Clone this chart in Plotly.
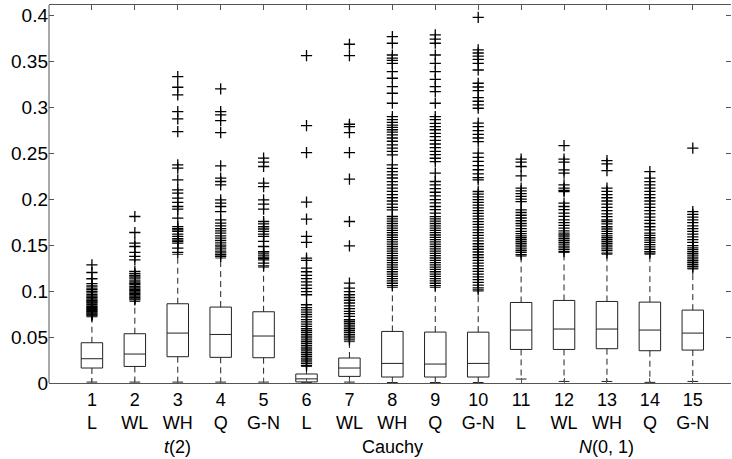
import plotly.graph_objects as go

# ---------------- data ----------------
positions = list(range(1, 16))
method_labels = ["L", "WL", "WH", "Q", "G-N"] * 3
group_labels = ["<i>t</i>(2)", "Cauchy", "<i>N</i>(0, 1)"]
group_centers = [3, 8, 13]

q1 = [0.0163, 0.0180, 0.0286, 0.0279, 0.0275,
      0.0012, 0.0072, 0.0065, 0.0065, 0.0065,
      0.0365, 0.0365, 0.0373, 0.0351, 0.0358]
median = [0.0264, 0.0315, 0.0543, 0.0528, 0.0511,
          0.0045, 0.0163, 0.0213, 0.0206, 0.0213,
          0.0576, 0.0587, 0.0587, 0.0576, 0.0543]
q3 = [0.0438, 0.0536, 0.0862, 0.0826, 0.0775,
      0.0098, 0.0272, 0.0561, 0.0554, 0.0553,
      0.0876, 0.0898, 0.0887, 0.0880, 0.0793]
whisker_low = [0.0010, 0.0010, 0.0010, 0.0010, 0.0010,
               0.0003, 0.0010, 0.0005, 0.0005, 0.0005,
               0.0043, 0.0017, 0.0017, 0.0007, 0.0017]
whisker_high = [0.0720, 0.0887, 0.1400, 0.1360, 0.1260,
                0.0180, 0.0450, 0.1040, 0.1040, 0.1000,
                0.1380, 0.1420, 0.1400, 0.1400, 0.1240]

outliers = [
    [0.1286, 0.1202, 0.1134, 0.108, 0.1055, 0.1033, 0.1015, 0.0996, 0.098, 0.096, 0.0945,
     0.093, 0.0915, 0.09, 0.089, 0.088, 0.087, 0.0855, 0.084, 0.083, 0.082, 0.081, 0.08,
     0.079, 0.078, 0.077, 0.076, 0.075, 0.074, 0.073],
    [0.1811, 0.1637, 0.1522, 0.1485, 0.142, 0.1377, 0.134, 0.1213, 0.119, 0.117, 0.1155,
     0.114, 0.112, 0.11, 0.1085, 0.107, 0.105, 0.1035, 0.102, 0.1005, 0.099, 0.0975, 0.096,
     0.0945, 0.093, 0.0915, 0.0905],
    [0.3333, 0.3217, 0.3134, 0.2952, 0.2873, 0.2735, 0.2373, 0.2337, 0.221, 0.2101, 0.2065,
     0.2011, 0.1965, 0.192, 0.1891, 0.1793, 0.1702, 0.168, 0.1665, 0.165, 0.162, 0.1595,
     0.157, 0.1555, 0.154, 0.1522, 0.1467, 0.142],
    [0.3199, 0.2952, 0.2916, 0.2854, 0.2724, 0.2362, 0.2228, 0.2192, 0.2155, 0.1992, 0.1957,
     0.192, 0.1865, 0.1775, 0.174, 0.171, 0.168, 0.1655, 0.163, 0.16, 0.1575, 0.155, 0.1525,
     0.15, 0.148, 0.146, 0.1435, 0.1415, 0.1395, 0.1377],
    [0.2446, 0.2403, 0.2355, 0.2174, 0.2137, 0.1992, 0.1946, 0.1891, 0.1757, 0.173, 0.17,
     0.1675, 0.165, 0.162, 0.1594, 0.154, 0.1485, 0.143, 0.1413, 0.139, 0.137, 0.1355,
     0.134, 0.1304, 0.1275],
    [0.3561, 0.28, 0.2507, 0.1967, 0.1783, 0.1594, 0.1529, 0.1359, 0.1333, 0.125, 0.121,
     0.117, 0.1135, 0.11, 0.1065, 0.103, 0.0995, 0.096, 0.0851, 0.082, 0.0795, 0.077,
     0.0745, 0.072, 0.069, 0.0665, 0.064, 0.0615, 0.059, 0.057, 0.055, 0.053, 0.051, 0.049,
     0.047, 0.045, 0.043, 0.041, 0.039, 0.037, 0.035, 0.033, 0.031, 0.029, 0.027, 0.025,
     0.023, 0.021, 0.019],
    [0.3685, 0.3561, 0.2815, 0.279, 0.2724, 0.2507, 0.2217, 0.1757, 0.1492, 0.1087, 0.1033,
     0.0995, 0.096, 0.093, 0.09, 0.087, 0.084, 0.081, 0.078, 0.0755, 0.0724, 0.0688, 0.067,
     0.065, 0.063, 0.061, 0.059, 0.057, 0.055, 0.053, 0.051, 0.049, 0.047],
    [0.3768, 0.3696, 0.3568, 0.3535, 0.351, 0.3478, 0.3387, 0.3315, 0.3224, 0.3152, 0.3043,
     0.2898, 0.2865, 0.2835, 0.2805, 0.278, 0.2755, 0.273, 0.27, 0.2665, 0.263, 0.259,
     0.2555, 0.252, 0.2481, 0.2373, 0.2335, 0.23, 0.2265, 0.223, 0.219, 0.2155, 0.212,
     0.2085, 0.205, 0.2015, 0.198, 0.1945, 0.191, 0.1884, 0.1811, 0.1785, 0.176, 0.1735,
     0.171, 0.1685, 0.166, 0.1635, 0.161, 0.1585, 0.156, 0.1535, 0.151, 0.1485, 0.146,
     0.1435, 0.141, 0.1385, 0.136, 0.1335, 0.131, 0.1285, 0.126, 0.1235, 0.121, 0.1185,
     0.116, 0.1135, 0.111, 0.1085, 0.106],
    [0.3786, 0.374, 0.3696, 0.3568, 0.3478, 0.3387, 0.3304, 0.3224, 0.317, 0.3043, 0.2898,
     0.2865, 0.2825, 0.279, 0.2755, 0.2715, 0.268, 0.264, 0.26, 0.256, 0.252, 0.2485,
     0.2445, 0.2408, 0.2283, 0.2192, 0.2155, 0.2115, 0.2075, 0.2035, 0.1995, 0.196, 0.192,
     0.1885, 0.1848, 0.181, 0.1785, 0.176, 0.1735, 0.171, 0.1685, 0.166, 0.1635, 0.161,
     0.1585, 0.156, 0.1535, 0.151, 0.1485, 0.146, 0.1435, 0.141, 0.1385, 0.136, 0.1335,
     0.131, 0.1285, 0.126, 0.1235, 0.121, 0.1185, 0.116, 0.1135, 0.111, 0.1085, 0.106],
    [0.3978, 0.3623, 0.359, 0.3555, 0.352, 0.3478, 0.3405, 0.3261, 0.322, 0.318, 0.3105,
     0.3065, 0.3025, 0.2989, 0.2826, 0.279, 0.2745, 0.2705, 0.2665, 0.2626, 0.25, 0.2455,
     0.241, 0.2365, 0.232, 0.2275, 0.2235, 0.221, 0.2083, 0.2055, 0.2025, 0.1995, 0.1965,
     0.1935, 0.1905, 0.1875, 0.1845, 0.1815, 0.1785, 0.1755, 0.1725, 0.1695, 0.1665,
     0.1635, 0.1605, 0.1575, 0.1545, 0.1515, 0.1485, 0.1455, 0.1425, 0.1395, 0.1365,
     0.1335, 0.1305, 0.1275, 0.1245, 0.1215, 0.1185, 0.1155, 0.1125, 0.1095, 0.1065,
     0.1035, 0.1014],
    [0.2435, 0.2402, 0.2355, 0.2253, 0.212, 0.209, 0.206, 0.203, 0.2, 0.1974, 0.1884,
     0.1855, 0.1825, 0.1795, 0.1765, 0.1735, 0.171, 0.168, 0.165, 0.1625, 0.16, 0.158,
     0.156, 0.154, 0.152, 0.15, 0.148, 0.146, 0.144, 0.142, 0.1395],
    [0.2583, 0.2435, 0.2402, 0.2318, 0.2283, 0.2155, 0.212, 0.2095, 0.2083, 0.1956, 0.192,
     0.1885, 0.1848, 0.1812, 0.1775, 0.1745, 0.1715, 0.1685, 0.1655, 0.163, 0.161, 0.159,
     0.157, 0.155, 0.153, 0.151, 0.149, 0.147, 0.145, 0.143],
    [0.242, 0.2384, 0.2311, 0.212, 0.2085, 0.205, 0.2015, 0.198, 0.1945, 0.191, 0.1875,
     0.184, 0.181, 0.1775, 0.1757, 0.173, 0.17, 0.1675, 0.165, 0.1625, 0.16, 0.158, 0.156,
     0.154, 0.152, 0.15, 0.148, 0.146, 0.144, 0.1413],
    [0.23, 0.2228, 0.219, 0.2155, 0.212, 0.2085, 0.205, 0.2015, 0.198, 0.1945, 0.191,
     0.1875, 0.184, 0.1805, 0.177, 0.1735, 0.17, 0.1665, 0.163, 0.1605, 0.158, 0.1555,
     0.153, 0.1505, 0.148, 0.1455, 0.143, 0.1413],
    [0.2554, 0.1865, 0.1835, 0.1805, 0.1775, 0.1745, 0.171, 0.168, 0.165, 0.162, 0.159,
     0.156, 0.153, 0.1495, 0.147, 0.145, 0.143, 0.141, 0.139, 0.137, 0.135, 0.133, 0.131,
     0.129, 0.127, 0.125],
]

y_tickvals = [0, 0.05, 0.1, 0.15, 0.2, 0.25, 0.3, 0.35, 0.4]
y_ticktext = ["0", "0.05", "0.1", "0.15", "0.2", "0.25", "0.3", "0.35", "0.4"]

# ---------------- style ----------------
BOX_HALF = 0.25
CAP_HALF = 0.125
FONT = "Liberation Sans, Arial, Helvetica, sans-serif"
FSIZE = 18
LINE = "#222222"

box_x, box_y = [], []
med_x, med_y = [], []
wh_x, wh_y = [], []
cap_x, cap_y = [], []
for i, p in enumerate(positions):
    box_x += [p - BOX_HALF, p + BOX_HALF, p + BOX_HALF, p - BOX_HALF, p - BOX_HALF, None]
    box_y += [q1[i], q1[i], q3[i], q3[i], q1[i], None]
    med_x += [p - BOX_HALF, p + BOX_HALF, None]
    med_y += [median[i], median[i], None]
    wh_x += [p, p, None, p, p, None]
    wh_y += [q3[i], whisker_high[i], None, q1[i], whisker_low[i], None]
    cap_x += [p - CAP_HALF, p + CAP_HALF, None, p - CAP_HALF, p + CAP_HALF, None]
    cap_y += [whisker_high[i], whisker_high[i], None, whisker_low[i], whisker_low[i], None]

out_x, out_y = [], []
for i, p in enumerate(positions):
    out_x += [p] * len(outliers[i])
    out_y += outliers[i]

fig = go.Figure()
fig.add_trace(go.Scatter(x=wh_x, y=wh_y, mode="lines",
                         line=dict(color=LINE, width=1, dash="6px,4px"), hoverinfo="skip"))
fig.add_trace(go.Scatter(x=cap_x, y=cap_y, mode="lines",
                         line=dict(color=LINE, width=1), hoverinfo="skip"))
fig.add_trace(go.Scatter(x=box_x, y=box_y, mode="lines",
                         line=dict(color=LINE, width=1), hoverinfo="skip"))
fig.add_trace(go.Scatter(x=med_x, y=med_y, mode="lines",
                         line=dict(color=LINE, width=1), hoverinfo="skip"))
fig.add_trace(go.Scatter(x=out_x, y=out_y, mode="markers",
                         marker=dict(symbol="cross-thin", size=8,
                                     line=dict(color="#000000", width=1.3)),
                         hoverinfo="skip"))

ticktext = [f"{p}<br>{m}" for p, m in zip(positions, method_labels)]

fig.update_layout(
    width=732, height=459,
    margin=dict(l=49, r=1, t=5, b=76),
    paper_bgcolor="white", plot_bgcolor="white",
    showlegend=False,
    font=dict(family=FONT, size=FSIZE, color="black"),
    xaxis=dict(range=[0, 15.89], tickvals=positions, ticktext=ticktext,
               ticks="inside", ticklen=5, tickcolor="#555555",
               showline=True, linecolor="#555555", linewidth=1, mirror="ticks",
               showgrid=False, zeroline=False, tickfont=dict(size=FSIZE)),
    yaxis=dict(range=[0, 0.4112], tickvals=y_tickvals, ticktext=y_ticktext,
               ticks="inside", ticklen=5, tickcolor="#555555",
               showline=False, mirror="ticks",
               showgrid=False, zeroline=False, tickfont=dict(size=FSIZE + 1)),
)
fig.add_shape(type="line", xref="paper", yref="paper", x0=0, x1=0, y0=0, y1=1,
              line=dict(color="#555555", width=1))
for lab, c in zip(group_labels, group_centers):
    fig.add_annotation(x=c, xref="x", y=-0.168, yref="paper", text=lab,
                       showarrow=False, yanchor="middle", xanchor="center",
                       font=dict(family=FONT, size=FSIZE, color="black"))

fig.write_html("out.html")
